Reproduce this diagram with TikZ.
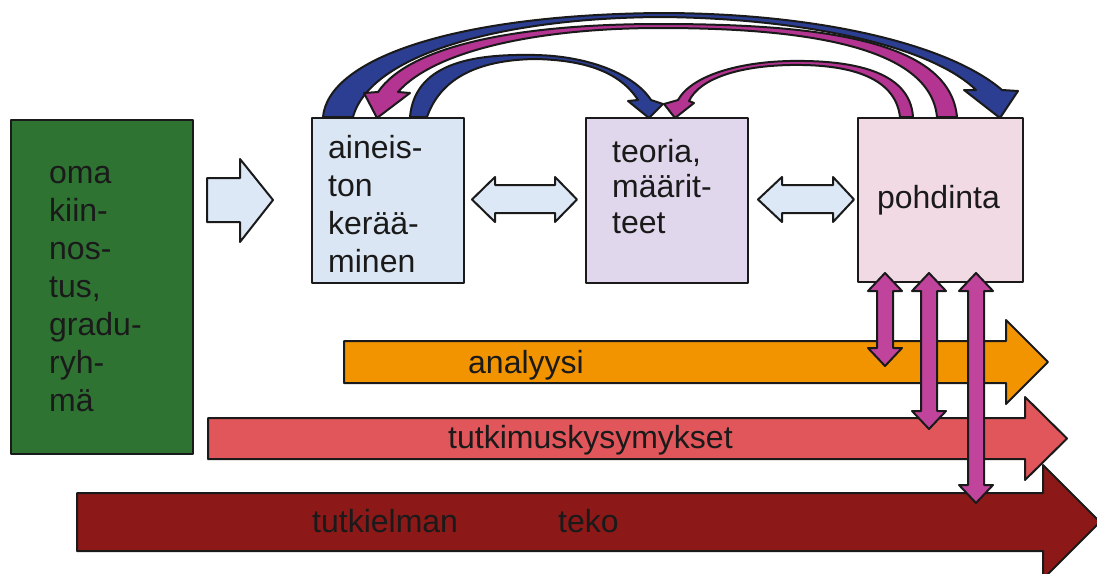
\documentclass[tikz,border=0pt]{standalone}
\usepackage{fontspec}
\setmainfont{Liberation Sans}
\usepackage{xcolor}
\usepackage{tikz}
\usetikzlibrary{positioning,calc}

\definecolor{omagreen}{RGB}{46,115,50}
\definecolor{ainblue}{RGB}{219,230,244}
\definecolor{teolilac}{RGB}{224,215,236}
\definecolor{pohpink}{RGB}{242,218,228}
\definecolor{hollowblue}{RGB}{220,232,246}
\definecolor{anaorange}{RGB}{242,148,0}
\definecolor{tutred}{RGB}{224,86,90}
\definecolor{tekored}{RGB}{140,24,24}
\definecolor{dblpink}{RGB}{192,68,155}
\definecolor{arcpink}{RGB}{180,52,145}
\definecolor{arcblue}{RGB}{43,62,145}
\definecolor{inkgray}{RGB}{26,26,26}

\tikzset{
  outl/.style={draw=inkgray, line width=2pt, line join=round},
  box/.style={outl, inner sep=0pt, anchor=north west},
  boxtext/.style={font=\fontsize{32}{38}\selectfont, text=inkgray, text width=150pt, align=left, inner sep=0pt, anchor=base west},
  bartext/.style={font=\fontsize{32}{38}\selectfont, text=inkgray, inner sep=0pt, anchor=base west}
}

\begin{document}
\begin{tikzpicture}[x=1pt, y=-1pt]
    \useasboundingbox (0,0) rectangle (1097,573);

    % Curved arrows over the boxes
    \filldraw[outl, fill=arcblue] (323,117) .. controls (328,60) and (450,15) .. (660,13)
      .. controls (820,13) and (950,45) .. (1002,90) -- (1018,91) -- (1000,118) -- (964,90) -- (976,90)
      .. controls (930,45) and (800,18) .. (660,17)
      .. controls (500,18) and (370,55) .. (353,117) -- cycle;
    \filldraw[outl, fill=arcpink] (957,117) .. controls (950,40) and (820,24) .. (660,24)
      .. controls (520,24) and (410,45) .. (378,92) -- (364,93) -- (377,118) -- (410,93) -- (398,92)
      .. controls (435,50) and (540,28) .. (660,28)
      .. controls (800,28) and (930,45) .. (937,117) -- cycle;
    \filldraw[outl, fill=arcblue] (410,117) .. controls (415,60) and (480,54) .. (535,55)
      .. controls (590,56) and (635,75) .. (651,100) -- (663,104) -- (649,118) -- (628,101) -- (638,100)
      .. controls (620,72) and (585,60) .. (535,59)
      .. controls (475,60) and (440,80) .. (427,117) -- cycle;
    \filldraw[outl, fill=arcpink] (913,117) .. controls (910,70) and (850,60) .. (790,61)
      .. controls (740,62) and (692,75) .. (678,100) -- (664,104) -- (675,118) -- (694,103) -- (689,101)
      .. controls (700,78) and (740,66) .. (790,65)
      .. controls (845,64) and (895,75) .. (900,117) -- cycle;

    % Boxes
    \node[box, fill=omagreen, minimum width=182pt, minimum height=334pt] (oma) at (10,119) {};
    \node[box, fill=ainblue, minimum width=152pt, minimum height=165pt] (ain) at (311,117) {};
    \node[box, fill=teolilac, minimum width=162pt, minimum height=165pt] (teo) at (585,117) {};
    \node[box, fill=pohpink, minimum width=165pt, minimum height=164pt] (poh) at (857,117) {};

    \node[boxtext] (omatxt) at ([shift={(39,64)}]oma.north west) {oma\\kiin-\\nos-\\tus,\\gradu-\\ryh-\\mä};
    \node[boxtext] (aintxt) at ([shift={(17,41)}]ain.north west) {aineis-\\ton\\kerää-\\minen};
    \node[boxtext, font=\fontsize{32}{35.5}\selectfont] (teotxt) at ([shift={(27,45)}]teo.north west) {teoria,\\määrit-\\teet};
    \node[font=\fontsize{32}{38}\selectfont, text=inkgray, inner sep=0pt] (pohtxt) at ([xshift=-2]poh.center) {pohdinta};

    % Hollow arrows between boxes
    \filldraw[outl, fill=hollowblue] (207,178) -- (240,178) -- (240,159) -- (273,200) -- (240,242) -- (240,222) -- (207,222) -- cycle;
    \filldraw[outl, fill=hollowblue] (472,199.5) -- (495,177) -- (495,185) -- (555,185) -- (555,177) -- (577,199.5)
      -- (555,222) -- (555,213) -- (495,213) -- (495,222) -- cycle;
    \filldraw[outl, fill=hollowblue] (758,199.5) -- (782,177) -- (782,185) -- (833,185) -- (833,177) -- (854,199.5)
      -- (833,222) -- (833,213) -- (782,213) -- (782,222) -- cycle;

    % Bars
    \filldraw[outl, fill=anaorange] (344,341) -- (1006,341) -- (1006,320) -- (1048,362) -- (1006,404) -- (1006,383) -- (344,383) -- cycle;
    \filldraw[outl, fill=tutred] (208,418) -- (1025,418) -- (1025,397) -- (1067,438.5) -- (1025,480) -- (1025,459) -- (208,459) -- cycle;
    \filldraw[outl, fill=tekored] (77,493) -- (1043,493) -- (1043,465) -- (1100,522) -- (1043,579) -- (1043,551) -- (77,551) -- cycle;

    \node[bartext] (ana) at (468,373) {analyysi};
    \node[bartext] (tut) at (448,448) {tutkimuskysymykset};
    \node[bartext] (tki) at (312,532) {tutkielman};
    \node[bartext] (teko) at (558,532) {teko};

    % Pink double arrows from pohdinta
    \filldraw[outl, fill=dblpink] (885,273) -- (902,291) -- (893,291) -- (893,348) -- (902,348) -- (885,366)
      -- (868,348) -- (877,348) -- (877,291) -- (868,291) -- cycle;
    \filldraw[outl, fill=dblpink] (929,273) -- (946,291) -- (937,291) -- (937,411) -- (946,411) -- (929,429)
      -- (912,411) -- (921,411) -- (921,291) -- (912,291) -- cycle;
    \filldraw[outl, fill=dblpink] (976,273) -- (993,291) -- (984,291) -- (984,485) -- (993,485) -- (976,503)
      -- (959,485) -- (968,485) -- (968,291) -- (959,291) -- cycle;

\end{tikzpicture}
\end{document}
